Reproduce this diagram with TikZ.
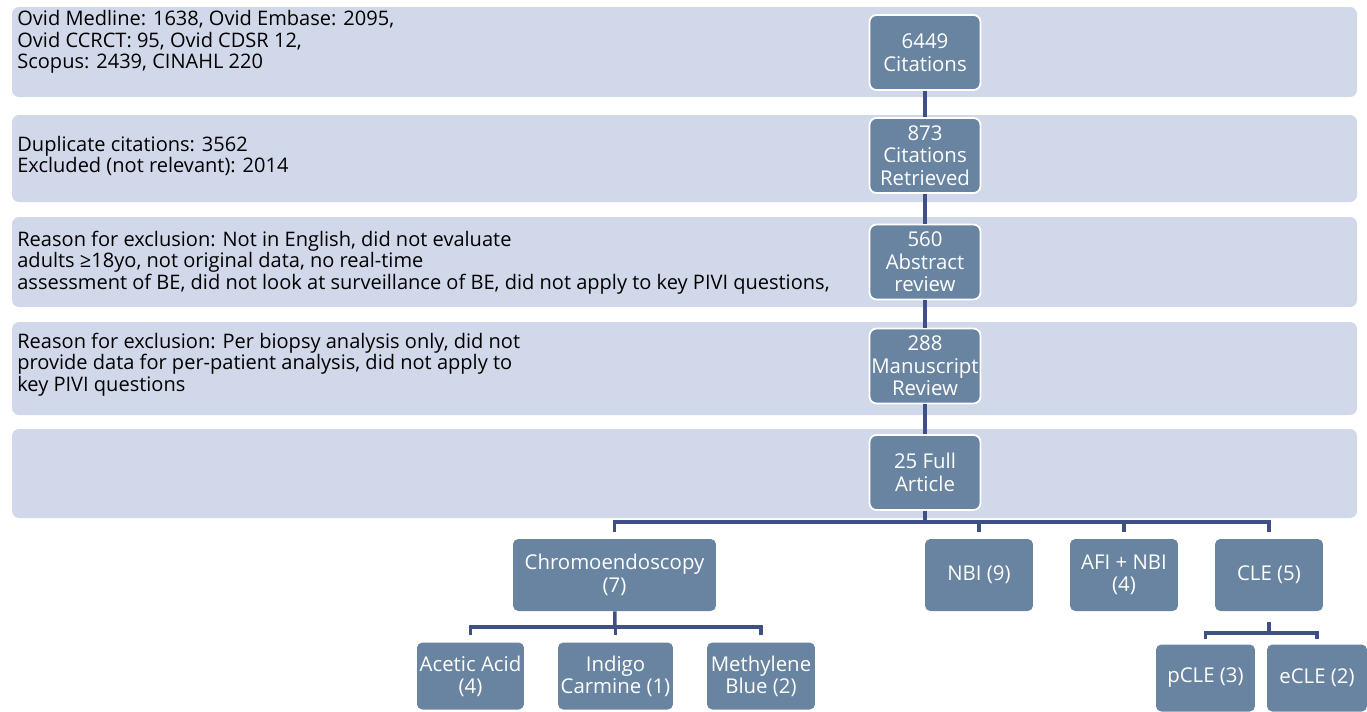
\documentclass[tikz,border=0pt]{standalone}
\usepackage{fontspec}
\setmainfont{Open Sans}
\usetikzlibrary{positioning}
\definecolor{bandblue}{HTML}{D1D8EA}
\definecolor{boxblue}{HTML}{6984A0}
\definecolor{linkblue}{HTML}{3F5085}

\begin{document}
\begin{tikzpicture}[x=0.02cm,y=-0.02cm,
  every node/.style={font=\fontsize{11.4}{12.2}\selectfont},
  band/.style={fill=bandblue,rounded corners=4pt},
  stage/.style={rectangle,rounded corners=4pt,fill=boxblue,draw=white,line width=1pt,text=white,align=center,inner sep=1pt,minimum width=2.22cm,minimum height=1.5cm,font=\fontsize{11.6}{12.8}\selectfont},
  branch/.style={rectangle,rounded corners=3pt,fill=boxblue,text=white,align=center,inner sep=1pt,minimum height=1.44cm,font=\fontsize{11.6}{12.8}\selectfont},
  leaf/.style={rectangle,rounded corners=3pt,fill=boxblue,text=white,align=center,inner sep=1pt,minimum height=1.34cm,font=\fontsize{11.6}{12.4}\selectfont},
  note/.style={anchor=west,align=left,inner sep=0pt},
  link/.style={draw=linkblue,line width=2pt}]

    \useasboundingbox (0,0) rectangle (1367,711);
    \clip (0,0) rectangle (1367,711);

    % The bands
    \fill[band] (12,7) rectangle (1357,97);
    \fill[band] (12,115) rectangle (1357,202);
    \fill[band] (12,217) rectangle (1357,307);
    \fill[band] (12,322) rectangle (1357,415);
    \fill[band] (12,429) rectangle (1357,518);

    \node [note] at (17,42) (n1) {Ovid Medline: 1638, Ovid Embase: 2095,\\Ovid CCRCT: 95, Ovid CDSR 12,\\Scopus: 2439, CINAHL 220};
    \node [note] at (17,156) (n2) {Duplicate citations: 3562\\Excluded (not relevant): 2014};
    \node [note] at (17,262.5) (n3) {Reason for exclusion: Not in English, did not evaluate\\adults ≥18yo, not original data, no real-time\\assessment of BE, did not look at surveillance of BE, did not apply to key PIVI questions,};
    \node [note] at (17,364.5) (n4) {Reason for exclusion: Per biopsy analysis only, did not\\provide data for per-patient analysis, did not apply to\\key PIVI questions};

    % The main column
    \node [stage] at (925,52.5) (s1) {6449\\Citations};
    \node [stage] at (925,155.5) (s2) {873\\Citations\\Retrieved};
    \node [stage] at (925,262) (s3) {560\\Abstract\\review};
    \node [stage] at (925,366) (s4) {288\\Manuscript\\Review};
    \node [stage] at (925,472.5) (s5) {25 Full\\Article};

    % Techniques
    \node [branch,minimum width=4.06cm] at (614.5,575) (chromo) {Chromoendoscopy\\(7)};
    \node [branch,minimum width=2.16cm] at (979,575) (nbi) {NBI (9)};
    \node [branch,minimum width=2.16cm] at (1124,575) (afi) {AFI + NBI\\(4)};
    \node [branch,minimum width=2.16cm] at (1269,575) (cle) {CLE (5)};

    \node [leaf,minimum width=2.14cm] at (470.5,676) (acetic) {Acetic Acid\\(4)};
    \node [leaf,minimum width=2.3cm] at (615.5,676) (indigo) {Indigo\\Carmine (1)};
    \node [leaf,minimum width=2.16cm] at (761,676) (methylene) {Methylene\\Blue (2)};
    \node [leaf,minimum width=1.98cm] at (1205.5,678) (pcle) {pCLE (3)};
    \node [leaf,minimum width=2.0cm] at (1317,678) (ecle) {eCLE (2)};

    \coordinate (bus) at (925,522);
    \coordinate (chromobus) at (615,627);
    \coordinate (clebus) at (1269,633);

    % Graph edges
    \path[link]
    (s1) -- (s2)
    (s2) -- (s3)
    (s3) -- (s4)
    (s4) -- (s5)
    (s5) -- (bus)
    ;

    \draw[link,shorten <=4pt] (chromo.north) |- (bus);
    \draw[link,shorten <=4pt] (nbi.north) |- (bus);
    \draw[link,shorten <=4pt] (afi.north) |- (bus);
    \draw[link,shorten <=4pt] (cle.north) |- (bus);

    \draw[link] (chromo) -- (chromobus);
    \draw[link,shorten <=4pt] (acetic.north) |- (chromobus);
    \draw[link,shorten <=4pt] (indigo.north) |- (chromobus);
    \draw[link,shorten <=4pt] (methylene.north) |- (chromobus);

    \draw[link,shorten <=6pt] (cle) -- (clebus);
    \draw[link,shorten <=3pt] (pcle.north) |- (clebus);
    \draw[link,shorten <=3pt] (ecle.north) |- (clebus);

\end{tikzpicture}
\end{document}
